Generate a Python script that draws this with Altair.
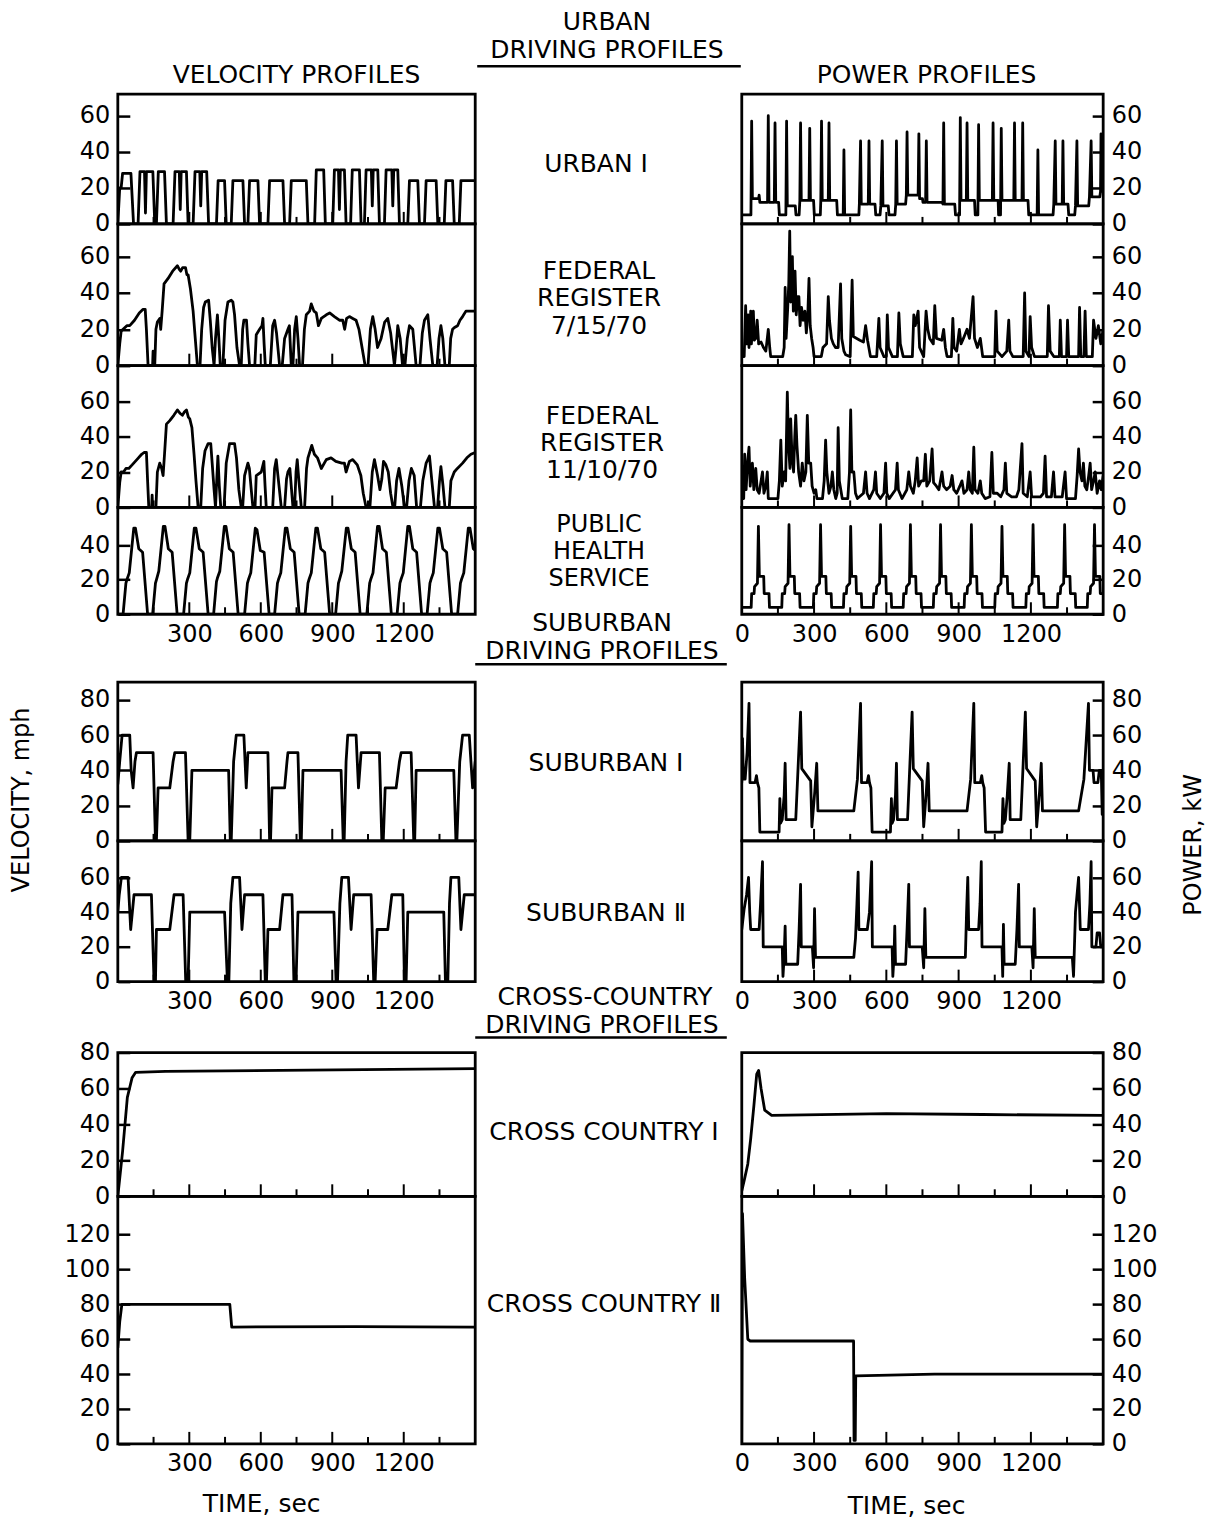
import altair as alt
import pandas as pd

FONT = "DejaVu Sans"

# ------------------------------------------------------------------ layout
LEFT_W, MID_W, RIGHT_W = 358, 267, 362
X_DOMAIN = [0, 1500]
MAJOR_TICKS = [300, 600, 900, 1200]
MINOR_TICKS = [150, 450, 750, 1050, 1350]
LEFT_XLABELS = [300, 600, 900, 1200]
RIGHT_XLABELS = [0, 300, 600, 900, 1200]

# ------------------------------------------------------------------ data (time s, value)
URBAN1_VELOCITY = [
    (0, 0), (8, 20), (14, 20), (20, 28), (55, 28), (66, 0),
    (85, 0), (93, 29), (112, 29), (116, 6), (120, 29), (147, 29), (155, 0),
    (162, 0), (170, 29), (196, 29), (204, 0),
    (232, 0), (240, 29), (258, 29), (262, 8), (266, 29), (288, 29), (295, 0),
    (316, 0), (324, 29), (344, 29), (348, 10), (352, 29), (373, 29), (381, 0),
    (414, 0), (421, 24), (448, 24), (455, 0),
    (476, 0), (483, 24), (525, 24), (532, 0),
    (546, 0), (553, 24), (588, 24), (595, 0),
    (630, 0), (637, 24), (693, 24), (700, 0),
    (721, 0), (728, 24), (791, 24), (798, 0),
    (826, 0), (833, 30), (864, 30), (871, 0),
    (902, 0), (909, 30), (926, 30), (930, 8), (934, 30), (951, 30), (958, 0),
    (977, 0), (984, 30), (1014, 30), (1021, 0),
    (1035, 0), (1042, 30), (1064, 30), (1068, 10), (1072, 30), (1091, 30), (1098, 0),
    (1119, 0), (1126, 30), (1150, 30), (1154, 10), (1158, 30), (1175, 30), (1182, 0),
    (1217, 0), (1224, 24), (1259, 24), (1266, 0),
    (1287, 0), (1294, 24), (1336, 24), (1343, 0),
    (1370, 0), (1377, 24), (1405, 24), (1412, 0),
    (1433, 0), (1440, 24), (1500, 24),
]

URBAN1_POWER = [
    (0, 5), (30, 5), (38, 5), (41, 57), (44, 14), (70, 14), (72, 16), (75, 12), (107, 12),
    (110, 60), (113, 12), (135, 12), (138, 56), (141, 12), (153, 12), (156, 5), (183, 5),
    (186, 57), (189, 10), (222, 10), (225, 5), (238, 5), (241, 13), (244, 56), (247, 13),
    (279, 13), (282, 53), (285, 13), (298, 13), (301, 5), (326, 5), (328, 13), (331, 57),
    (334, 13), (359, 13), (362, 56), (365, 13), (394, 13), (397, 5), (421, 5), (424, 41),
    (427, 5), (486, 5), (488, 11), (493, 46), (496, 11), (525, 11), (528, 46), (531, 11),
    (553, 11), (556, 5), (574, 5), (577, 10), (583, 46), (586, 10), (608, 10), (611, 5),
    (636, 5), (639, 11), (642, 46), (645, 11), (680, 11), (683, 16), (686, 51), (689, 16),
    (732, 16), (735, 50), (738, 14), (750, 14), (752, 12), (763, 12), (766, 46), (769, 12),
    (831, 12), (835, 11), (838, 56), (841, 11), (884, 11), (887, 5), (904, 5), (907, 59),
    (910, 13), (932, 13), (935, 56), (938, 13), (966, 13), (969, 5), (980, 5), (983, 55),
    (986, 13), (1040, 13), (1043, 56), (1046, 13), (1064, 13), (1066, 5), (1074, 5),
    (1077, 53), (1080, 13), (1129, 13), (1132, 56), (1135, 13), (1163, 13), (1166, 56),
    (1169, 13), (1188, 13), (1191, 5), (1226, 5), (1229, 41), (1232, 5), (1292, 5),
    (1295, 11), (1301, 46), (1304, 11), (1330, 11), (1333, 46), (1336, 11), (1354, 11),
    (1357, 5), (1382, 5), (1385, 10), (1391, 46), (1394, 10), (1440, 10), (1443, 15),
    (1450, 46), (1453, 15), (1486, 15), (1489, 18), (1491, 50), (1494, 18), (1500, 18),
]

FR1_VELOCITY = [
    (0, 0), (8, 12), (14, 19), (22, 20), (30, 21), (38, 22), (50, 22), (70, 25), (90, 29),
    (106, 31), (115, 31), (120, 20), (127, 0), (146, 0), (148, 8), (150, 0), (155, 0),
    (160, 20), (166, 24), (176, 26), (180, 20), (186, 30), (194, 45), (211, 48), (230, 52),
    (250, 55), (258, 53), (264, 52), (272, 54), (284, 54), (290, 50), (295, 50), (305, 42),
    (316, 30), (325, 15), (334, 0), (345, 0), (352, 20), (360, 32), (367, 35), (381, 36),
    (388, 25), (396, 10), (404, 0), (410, 15), (418, 28), (424, 15), (430, 0), (441, 0),
    (450, 25), (462, 35), (476, 36), (483, 35), (490, 28), (500, 10), (511, 0), (518, 0),
    (524, 20), (529, 25), (540, 25), (546, 12), (553, 0), (575, 0), (581, 17), (595, 20),
    (605, 22), (609, 26), (614, 12), (619, 0), (640, 0), (650, 22), (658, 25), (666, 18),
    (679, 0), (690, 0), (700, 15), (714, 20), (720, 22), (728, 0), (735, 0), (742, 20),
    (749, 27), (756, 15), (763, 0), (775, 0), (783, 20), (791, 28), (805, 30), (812, 34),
    (823, 30), (833, 29), (842, 22), (854, 26), (875, 28), (889, 29), (909, 27), (930, 25),
    (944, 25), (952, 20), (960, 26), (972, 27), (986, 26), (1000, 25), (1012, 20),
    (1025, 10), (1038, 0), (1050, 0), (1060, 20), (1070, 27), (1080, 20), (1090, 10),
    (1105, 15), (1120, 24), (1133, 26), (1145, 18), (1161, 0), (1168, 10), (1175, 22),
    (1185, 15), (1195, 0), (1205, 0), (1215, 15), (1224, 22), (1238, 20), (1252, 0),
    (1268, 0), (1278, 18), (1287, 25), (1301, 28), (1310, 15), (1322, 0), (1340, 0),
    (1348, 15), (1356, 22), (1364, 15), (1373, 0), (1391, 0), (1397, 15), (1405, 20),
    (1413, 21), (1426, 22), (1436, 25), (1447, 27), (1461, 30), (1480, 30), (1500, 30),
]

FR1_POWER = [
    (0, 5), (10, 5), (16, 33), (20, 12), (26, 28), (30, 10), (37, 30), (40, 12), (48, 30),
    (52, 14), (58, 15), (64, 25), (70, 12), (80, 13), (90, 10), (100, 8), (110, 20),
    (116, 10), (120, 5), (170, 5), (176, 10), (180, 43), (184, 15), (190, 30), (195, 45),
    (199, 74), (203, 35), (207, 50), (210, 60), (214, 30), (218, 40), (221, 52), (226, 28),
    (232, 38), (237, 38), (242, 22), (248, 32), (255, 25), (262, 30), (268, 18), (274, 28),
    (279, 48), (284, 22), (290, 15), (296, 10), (300, 5), (330, 5), (337, 10), (352, 12),
    (359, 38), (364, 25), (372, 15), (380, 12), (389, 10), (400, 10), (410, 45), (415, 15),
    (424, 8), (431, 6), (450, 5), (458, 47), (463, 16), (490, 14), (505, 13), (514, 22),
    (522, 14), (534, 5), (560, 5), (569, 26), (574, 10), (590, 5), (600, 5), (604, 28),
    (609, 10), (625, 5), (646, 5), (652, 29), (658, 12), (670, 5), (708, 5), (714, 28),
    (720, 22), (732, 30), (738, 10), (755, 5), (765, 30), (772, 20), (780, 15), (795, 12),
    (801, 33), (808, 15), (830, 14), (838, 20), (845, 10), (852, 5), (870, 5), (876, 26),
    (881, 10), (892, 8), (903, 20), (910, 12), (920, 15), (935, 20), (945, 15), (960, 38),
    (966, 15), (978, 10), (990, 15), (1000, 5), (1050, 5), (1055, 30), (1060, 8),
    (1080, 5), (1100, 8), (1108, 25), (1113, 8), (1125, 5), (1168, 5), (1174, 40),
    (1179, 8), (1192, 5), (1197, 27), (1203, 10), (1215, 5), (1268, 5), (1273, 33),
    (1280, 8), (1295, 5), (1318, 5), (1322, 25), (1327, 5), (1348, 5), (1352, 25),
    (1357, 5), (1398, 5), (1402, 32), (1407, 5), (1420, 5), (1425, 30), (1430, 5),
    (1455, 5), (1460, 25), (1470, 15), (1480, 22), (1490, 12), (1500, 20),
]

FR2_VELOCITY = [
    (0, 0), (8, 14), (14, 20), (24, 20), (34, 22), (46, 22), (60, 24), (80, 27), (100, 30),
    (110, 31), (120, 31), (125, 15), (130, 0), (142, 0), (144, 7), (146, 0), (160, 0),
    (166, 20), (176, 25), (184, 22), (190, 18), (196, 30), (204, 47), (218, 49), (235, 52),
    (250, 55), (262, 53), (271, 52), (280, 54), (288, 55), (296, 51), (302, 50), (311, 45),
    (320, 30), (328, 15), (337, 0), (348, 0), (356, 22), (366, 32), (379, 36), (390, 36),
    (396, 25), (404, 10), (410, 0), (414, 12), (420, 29), (426, 12), (432, 0), (446, 0),
    (455, 25), (469, 36), (490, 36), (498, 28), (508, 10), (518, 0), (524, 0), (532, 18),
    (546, 25), (552, 22), (560, 10), (567, 0), (576, 0), (581, 18), (602, 20), (613, 26),
    (618, 12), (623, 0), (650, 0), (658, 22), (665, 27), (672, 18), (686, 0), (700, 0),
    (708, 16), (714, 20), (722, 22), (735, 0), (742, 0), (748, 20), (753, 27), (760, 15),
    (770, 0), (784, 0), (792, 22), (798, 28), (814, 35), (825, 30), (838, 28), (854, 22),
    (875, 27), (895, 28), (915, 26), (940, 25), (951, 25), (958, 20), (972, 26), (986, 27),
    (1005, 24), (1020, 18), (1030, 8), (1042, 0), (1058, 0), (1068, 20), (1077, 27),
    (1090, 18), (1100, 10), (1108, 16), (1115, 26), (1125, 24), (1135, 20), (1145, 8),
    (1155, 0), (1162, 0), (1170, 15), (1180, 22), (1192, 12), (1203, 0), (1212, 0),
    (1222, 15), (1232, 22), (1244, 18), (1254, 0), (1270, 0), (1280, 15), (1294, 25),
    (1308, 29), (1318, 15), (1329, 0), (1342, 0), (1350, 15), (1356, 23), (1365, 12),
    (1373, 0), (1391, 0), (1398, 15), (1412, 20), (1425, 22), (1447, 25), (1465, 28),
    (1482, 30), (1500, 31),
]

FR2_POWER = [
    (0, 5), (8, 5), (12, 30), (18, 10), (24, 25), (30, 34), (35, 12), (40, 20), (44, 25),
    (50, 10), (58, 22), (64, 10), (72, 8), (86, 20), (92, 8), (100, 12), (106, 20),
    (110, 5), (150, 5), (156, 15), (162, 38), (168, 12), (176, 20), (182, 15), (189, 65),
    (194, 35), (200, 22), (203, 50), (208, 30), (215, 20), (220, 40), (224, 52), (229, 35),
    (236, 20), (244, 12), (251, 25), (258, 15), (266, 20), (272, 52), (278, 25), (286, 25),
    (292, 12), (300, 8), (307, 10), (312, 5), (335, 5), (342, 15), (348, 38), (353, 20),
    (362, 8), (370, 12), (376, 20), (382, 10), (390, 5), (396, 8), (400, 45), (405, 15),
    (411, 10), (417, 5), (440, 5), (447, 20), (452, 55), (457, 20), (465, 20), (472, 8),
    (480, 5), (505, 8), (514, 20), (520, 8), (530, 5), (548, 10), (555, 20), (560, 8),
    (575, 5), (590, 8), (597, 25), (602, 8), (612, 5), (638, 10), (645, 25), (650, 10),
    (665, 5), (685, 10), (693, 20), (700, 12), (712, 8), (720, 15), (728, 28), (734, 12),
    (745, 15), (755, 15), (762, 30), (768, 12), (780, 15), (790, 33), (796, 14), (808, 12),
    (818, 10), (831, 20), (838, 12), (850, 10), (865, 12), (873, 18), (880, 10), (892, 8),
    (905, 12), (914, 15), (922, 8), (935, 10), (942, 20), (948, 10), (957, 8), (963, 34),
    (968, 10), (980, 8), (990, 15), (996, 8), (1010, 5), (1030, 6), (1038, 31), (1044, 8),
    (1060, 8), (1075, 6), (1088, 10), (1094, 25), (1100, 8), (1120, 6), (1140, 6),
    (1150, 10), (1163, 36), (1168, 8), (1185, 6), (1197, 20), (1203, 6), (1240, 6),
    (1252, 8), (1259, 29), (1265, 6), (1285, 6), (1294, 20), (1300, 6), (1330, 6),
    (1342, 20), (1348, 5), (1385, 5), (1392, 18), (1398, 33), (1404, 20), (1412, 15),
    (1418, 25), (1424, 12), (1432, 10), (1440, 18), (1446, 25), (1452, 10), (1460, 15),
    (1467, 20), (1475, 8), (1485, 15), (1492, 10), (1500, 18),
]

PHS_VELOCITY = [
    (0, 0), (22, 0), (34, 18), (38, 20), (48, 24), (67, 50), (74, 50), (88, 38), (104, 36), (125, 0),
    (146, 0), (158, 18), (162, 20), (172, 25), (191, 51), (198, 51), (212, 38), (228, 36), (249, 0),
    (276, 0), (288, 18), (292, 20), (302, 24), (321, 50), (328, 50), (342, 38), (358, 36), (379, 0),
    (402, 0), (414, 19), (418, 21), (428, 25), (447, 51), (454, 51), (468, 38), (484, 36), (505, 0),
    (532, 0), (544, 18), (548, 20), (558, 24), (577, 50), (584, 49), (598, 37), (614, 36), (635, 0),
    (658, 0), (670, 18), (674, 20), (684, 24), (703, 50), (710, 50), (724, 38), (740, 36), (761, 0),
    (786, 0), (798, 18), (802, 20), (812, 24), (831, 50), (838, 50), (852, 38), (868, 36), (889, 0),
    (914, 0), (926, 18), (930, 20), (940, 25), (959, 50), (966, 50), (980, 38), (996, 36), (1017, 0),
    (1045, 0), (1057, 18), (1061, 20), (1071, 24), (1090, 51), (1097, 51), (1111, 38), (1127, 36), (1148, 0),
    (1172, 0), (1184, 18), (1188, 20), (1198, 24), (1217, 51), (1224, 51), (1238, 38), (1254, 36), (1275, 0),
    (1298, 0), (1310, 18), (1314, 20), (1324, 24), (1343, 50), (1350, 50), (1364, 38), (1380, 36), (1401, 0),
    (1426, 0), (1438, 18), (1442, 20), (1452, 24), (1471, 50), (1478, 50), (1492, 38), (1500, 37),
]

PHS_POWER = [
    (0, 4),
    (39, 4), (41, 12), (51, 12), (53, 16), (65, 18), (69, 51), (73, 22), (91, 22), (93, 12), (113, 12), (115, 4),
    (166, 4), (168, 12), (178, 12), (180, 16), (192, 18), (196, 52), (200, 22), (218, 22), (220, 12), (240, 12), (242, 4),
    (297, 4), (299, 12), (309, 12), (311, 16), (323, 18), (327, 52), (331, 22), (349, 22), (351, 12), (371, 12), (373, 4),
    (422, 4), (424, 12), (434, 12), (436, 16), (448, 18), (452, 51), (456, 22), (474, 22), (476, 12), (496, 12), (498, 4),
    (546, 4), (548, 12), (558, 12), (560, 16), (572, 18), (576, 52), (580, 22), (598, 22), (600, 12), (620, 12), (622, 4),
    (670, 4), (672, 12), (682, 12), (684, 16), (696, 18), (700, 52), (704, 22), (722, 22), (724, 12), (744, 12), (746, 4),
    (795, 4), (797, 12), (807, 12), (809, 16), (821, 18), (825, 52), (829, 22), (847, 22), (849, 12), (869, 12), (871, 4),
    (923, 4), (925, 12), (935, 12), (937, 16), (949, 18), (953, 52), (957, 22), (975, 22), (977, 12), (997, 12), (999, 4),
    (1050, 4), (1052, 12), (1062, 12), (1064, 16), (1076, 18), (1080, 51), (1084, 22), (1102, 22), (1104, 12), (1124, 12), (1126, 4),
    (1179, 4), (1181, 12), (1191, 12), (1193, 16), (1205, 18), (1209, 52), (1213, 22), (1231, 22), (1233, 12), (1253, 12), (1255, 4),
    (1310, 4), (1312, 12), (1322, 12), (1324, 16), (1336, 18), (1340, 52), (1344, 22), (1362, 22), (1364, 12), (1384, 12), (1386, 4),
    (1434, 4), (1436, 12), (1446, 12), (1448, 16), (1460, 18), (1464, 52), (1468, 22), (1486, 22), (1488, 12), (1500, 12),
]

SUB1_VELOCITY = [
    (0, 32), (8, 45), (18, 60), (50, 60), (56, 40), (64, 30), (72, 45), (78, 50), (148, 50),
    (158, 0), (162, 0), (169, 30), (218, 30), (232, 45), (239, 50), (284, 50), (295, 0),
    (302, 0), (311, 40), (465, 40), (472, 0), (476, 0), (486, 45), (497, 60), (529, 60),
    (539, 30), (546, 50), (630, 50), (637, 0), (641, 0), (647, 30), (700, 30), (710, 45),
    (714, 50), (756, 50), (766, 0), (770, 0), (777, 40), (937, 40), (946, 0), (950, 0),
    (958, 45), (965, 60), (1000, 60), (1010, 30), (1021, 50), (1098, 50), (1108, 0),
    (1114, 0), (1122, 30), (1168, 30), (1182, 45), (1189, 50), (1231, 50), (1242, 0),
    (1246, 0), (1252, 40), (1410, 40), (1419, 0), (1423, 0), (1435, 45), (1447, 60),
    (1475, 60), (1489, 30), (1500, 45),
]

SUB1_POWER = [
    (0, 33), (3, 58), (7, 35), (14, 35), (22, 50), (30, 78), (34, 33), (55, 33), (61, 37),
    (65, 33), (71, 30), (75, 5), (155, 5), (158, 24), (161, 10), (168, 12), (176, 26),
    (180, 44), (184, 12), (224, 12), (244, 73), (249, 41), (286, 34), (291, 8), (303, 28),
    (311, 44), (316, 17), (465, 17), (480, 35), (493, 78), (497, 33), (520, 33), (526, 37),
    (530, 33), (536, 30), (541, 5), (617, 5), (621, 24), (624, 10), (630, 12), (638, 26),
    (642, 44), (646, 12), (688, 12), (707, 73), (712, 41), (749, 34), (755, 8), (766, 28),
    (773, 44), (778, 17), (935, 17), (950, 35), (963, 78), (967, 33), (990, 33), (996, 37),
    (1000, 33), (1006, 30), (1012, 5), (1080, 5), (1084, 24), (1088, 10), (1094, 12),
    (1102, 26), (1110, 44), (1114, 12), (1158, 12), (1177, 73), (1182, 41), (1218, 34),
    (1224, 8), (1236, 28), (1243, 44), (1248, 17), (1398, 17), (1420, 35), (1439, 78),
    (1443, 40), (1458, 40), (1462, 33), (1478, 33), (1484, 40), (1492, 40), (1496, 15),
    (1500, 40),
]

SUB2_VELOCITY = [
    (0, 40), (6, 50), (15, 60), (43, 60), (54, 30), (68, 50), (141, 50), (152, 0), (158, 0),
    (162, 30), (218, 30), (236, 50), (274, 50), (285, 0), (295, 0), (302, 40), (448, 40),
    (460, 0), (466, 0), (474, 45), (483, 60), (511, 60), (521, 30), (532, 50), (609, 50),
    (619, 0), (624, 0), (630, 30), (679, 30), (693, 50), (731, 50), (739, 0), (748, 0),
    (756, 40), (907, 40), (916, 0), (922, 0), (932, 45), (940, 60), (968, 60), (979, 30),
    (990, 50), (1063, 50), (1074, 0), (1080, 0), (1088, 30), (1133, 30), (1150, 50),
    (1196, 50), (1203, 0), (1210, 0), (1217, 40), (1368, 40), (1375, 0), (1385, 0),
    (1392, 45), (1398, 60), (1431, 60), (1440, 30), (1454, 50), (1500, 50),
]

SUB2_POWER = [
    (0, 30), (10, 42), (20, 50), (28, 60), (33, 40), (37, 30), (72, 30), (78, 45), (86, 69),
    (89, 20), (168, 20), (171, 3), (176, 15), (180, 32), (183, 10), (232, 10), (238, 30),
    (244, 56), (247, 20), (293, 20), (298, 8), (302, 42), (306, 14), (465, 14), (472, 25),
    (478, 45), (483, 63), (486, 30), (521, 30), (530, 40), (539, 69), (542, 20), (624, 20),
    (627, 3), (632, 15), (635, 32), (638, 10), (680, 10), (686, 30), (693, 56), (696, 20),
    (749, 20), (755, 8), (760, 42), (764, 14), (928, 14), (933, 40), (938, 60), (942, 30),
    (983, 30), (989, 45), (994, 69), (997, 20), (1080, 20), (1083, 3), (1086, 33),
    (1089, 10), (1135, 10), (1142, 30), (1149, 56), (1152, 20), (1204, 20), (1209, 8),
    (1214, 42), (1218, 14), (1372, 14), (1377, 3), (1385, 40), (1398, 60), (1405, 30),
    (1439, 30), (1445, 45), (1450, 69), (1453, 20), (1470, 20), (1475, 28), (1485, 28),
    (1490, 20), (1500, 20),
]

CC1_VELOCITY = [(0, 0), (20, 25), (40, 55), (60, 66), (75, 69), (200, 69.5), (800, 70.2), (1500, 71)]
CC1_POWER = [(0, 3), (12, 10), (25, 18), (37, 32), (50, 50), (62, 68), (70, 70), (80, 60),
             (95, 48), (124, 45), (600, 46), (1000, 45.5), (1500, 45)]
CC2_VELOCITY = [(0, 55), (8, 70), (17, 80), (470, 80), (478, 67), (1000, 67.3), (1500, 67)]
CC2_POWER = [(0, 0), (3, 132), (12, 95), (25, 60), (35, 59), (464, 59), (466, 2), (471, 2),
             (473, 39), (800, 40), (1500, 40)]

# ------------------------------------------------------------------ texts
VEL_HEADER = "VELOCITY PROFILES"
POW_HEADER = "POWER PROFILES"
URBAN_HEADER = ["URBAN", "DRIVING PROFILES"]
SUBURBAN_HEADER = ["SUBURBAN", "DRIVING PROFILES"]
CROSS_HEADER = ["CROSS-COUNTRY", "DRIVING PROFILES"]
ROW_LABELS = ["URBAN \u2160", "FEDERAL\nREGISTER\n7/15/70", "FEDERAL\nREGISTER\n11/10/70",
              "PUBLIC\nHEALTH\nSERVICE", "SUBURBAN \u2160", "SUBURBAN \u2161",
              "CROSS COUNTRY \u2160", "CROSS COUNTRY \u2161"]
VEL_TITLE = "VELOCITY, mph"
POW_TITLE = "POWER, kW"
TIME_TITLE = "TIME, sec"


def text_layer(label, x, y, size=25, angle=0, line_height=27.5):
    return alt.Chart(pd.DataFrame({"label": [label]})).mark_text(
        font=FONT, fontSize=size, color="black", align="center", baseline="middle",
        lineBreak="\n", lineHeight=line_height, angle=angle,
    ).encode(x=alt.value(x), y=alt.value(y), text="label:N")


def underline(x1, x2, y):
    return alt.Chart(pd.DataFrame({"u": [0]})).mark_rule(color="black", strokeWidth=2.5).encode(
        x=alt.value(x1), x2=alt.value(x2), y=alt.value(y))


def text_cell(width, height, layers):
    return alt.layer(*layers).properties(
        width=width, height=height, view=alt.ViewBackground(strokeOpacity=0))


def panel(series, ymax, yticks, width, height, side, xlabels=None, extras=()):
    df = pd.DataFrame(series, columns=["t", "v"])
    if xlabels is None:
        xaxis = None
    else:
        xaxis = alt.Axis(values=xlabels, format="d", ticks=False, tickSize=0, domain=False,
                         grid=False, labelPadding=8, labelFont=FONT, labelFontSize=24,
                         labelColor="black", title=None, labelFlush=False, labelOverlap=False)
    xenc = alt.X("t:Q", scale=alt.Scale(domain=X_DOMAIN, nice=False, zero=False), axis=xaxis)
    inset = 12 if side == "left" else 11
    yaxis = alt.Axis(orient=side, values=yticks, format="d", offset=-inset, tickSize=inset,
                     tickWidth=2.5, tickColor="black", domain=False, grid=False,
                     labelPadding=8, labelFont=FONT, labelFontSize=24,
                     labelColor="black", title=None, labelFlush=False, labelOverlap=False)
    yenc = alt.Y("v:Q", scale=alt.Scale(domain=[0, ymax], nice=False, zero=False), axis=yaxis)
    line = alt.Chart(df).mark_line(color="black", strokeWidth=2.8, clip=True,
                                   strokeJoin="round").encode(x=xenc, y=yenc)
    major = alt.Chart(pd.DataFrame({"t": MAJOR_TICKS})).mark_rule(
        color="black", strokeWidth=2).encode(x=xenc, y=alt.value(height), y2=alt.value(height - 12))
    minor = alt.Chart(pd.DataFrame({"t": MINOR_TICKS})).mark_rule(
        color="black", strokeWidth=2).encode(x=xenc, y=alt.value(height), y2=alt.value(height - 7))
    return alt.layer(line, major, minor, *extras).properties(width=width, height=height)


cells = []
# header row
cells += [
    text_cell(LEFT_W, 85, [text_layer(VEL_HEADER, 179, 66)]),
    text_cell(MID_W, 85, [text_layer(URBAN_HEADER[0], 132, 13), text_layer(URBAN_HEADER[1], 132, 41),
                          underline(2, 266, 57)]),
    text_cell(RIGHT_W, 85, [text_layer(POW_HEADER, 185, 66)]),
]
# urban rows
cells += [
    panel(URBAN1_VELOCITY, 72, [0, 20, 40, 60], LEFT_W, 130, "left"),
    text_cell(MID_W, 130, [text_layer(ROW_LABELS[0], 121, 70)]),
    panel(URBAN1_POWER, 72, [0, 20, 40, 60], RIGHT_W, 130, "right"),
]
cells += [
    panel(FR1_VELOCITY, 78, [0, 20, 40, 60], LEFT_W, 142, "left"),
    text_cell(MID_W, 142, [text_layer(ROW_LABELS[1], 124, 47)]),
    panel(FR1_POWER, 78, [0, 20, 40, 60], RIGHT_W, 142, "right"),
]
cells += [
    panel(FR2_VELOCITY, 80, [0, 20, 40, 60], LEFT_W, 142, "left"),
    text_cell(MID_W, 142, [text_layer(ROW_LABELS[2], 127, 50)]),
    panel(FR2_POWER, 80, [0, 20, 40, 60], RIGHT_W, 142, "right"),
]
cells += [
    panel(PHS_VELOCITY, 62, [0, 20, 40], LEFT_W, 107, "left", xlabels=LEFT_XLABELS),
    text_cell(MID_W, 107, [text_layer(ROW_LABELS[3], 124, 18, size=24, line_height=27)]),
    panel(PHS_POWER, 62, [0, 20, 40], RIGHT_W, 107, "right", xlabels=RIGHT_XLABELS),
]
# suburban header
cells += [
    text_cell(LEFT_W, 68, [text_layer("", 0, 0)]),
    text_cell(MID_W, 68, [text_layer(SUBURBAN_HEADER[0], 127, 9), text_layer(SUBURBAN_HEADER[1], 127, 37),
                          underline(0, 252, 50)]),
    text_cell(RIGHT_W, 68, [text_layer("", 0, 0)]),
]
cells += [
    panel(SUB1_VELOCITY, 90, [0, 20, 40, 60, 80], LEFT_W, 159, "left",
          extras=[text_layer(VEL_TITLE, -96, 118, size=24, angle=270)]),
    text_cell(MID_W, 159, [text_layer(ROW_LABELS[4], 131, 81)]),
    panel(SUB1_POWER, 90, [0, 20, 40, 60, 80], RIGHT_W, 159, "right",
          extras=[text_layer(POW_TITLE, 453, 163, size=24, angle=270)]),
]
cells += [
    panel(SUB2_VELOCITY, 81, [0, 20, 40, 60], LEFT_W, 141, "left", xlabels=LEFT_XLABELS),
    text_cell(MID_W, 141, [text_layer(ROW_LABELS[5], 131, 72)]),
    panel(SUB2_POWER, 81, [0, 20, 40, 60], RIGHT_W, 141, "right", xlabels=RIGHT_XLABELS),
]
# cross-country header
cells += [
    text_cell(LEFT_W, 71, [text_layer("", 0, 0)]),
    text_cell(MID_W, 71, [text_layer(CROSS_HEADER[0], 130, 15), text_layer(CROSS_HEADER[1], 127, 43),
                          underline(0, 252, 56)]),
    text_cell(RIGHT_W, 71, [text_layer("", 0, 0)]),
]
cells += [
    panel(CC1_VELOCITY, 80, [0, 20, 40, 60, 80], LEFT_W, 144, "left"),
    text_cell(MID_W, 144, [text_layer(ROW_LABELS[6], 129, 80)]),
    panel(CC1_POWER, 80, [0, 20, 40, 60, 80], RIGHT_W, 144, "right"),
]
cells += [
    panel(CC2_VELOCITY, 142, [0, 20, 40, 60, 80, 100, 120], LEFT_W, 248, "left",
          xlabels=LEFT_XLABELS, extras=[text_layer(TIME_TITLE, 144, 308)]),
    text_cell(MID_W, 248, [text_layer(ROW_LABELS[7], 129, 108)]),
    panel(CC2_POWER, 142, [0, 20, 40, 60, 80, 100, 120], RIGHT_W, 248, "right",
          xlabels=RIGHT_XLABELS, extras=[text_layer(TIME_TITLE, 165, 310)]),
]

chart = alt.concat(
    *cells, columns=3, spacing=0, bounds="flush", align="each",
    padding={"left": 0, "top": 0, "right": 0, "bottom": 4},
).configure_view(stroke="black", strokeWidth=2.8)

chart.save("out.html", embed_options={"renderer": "svg", "actions": False})
